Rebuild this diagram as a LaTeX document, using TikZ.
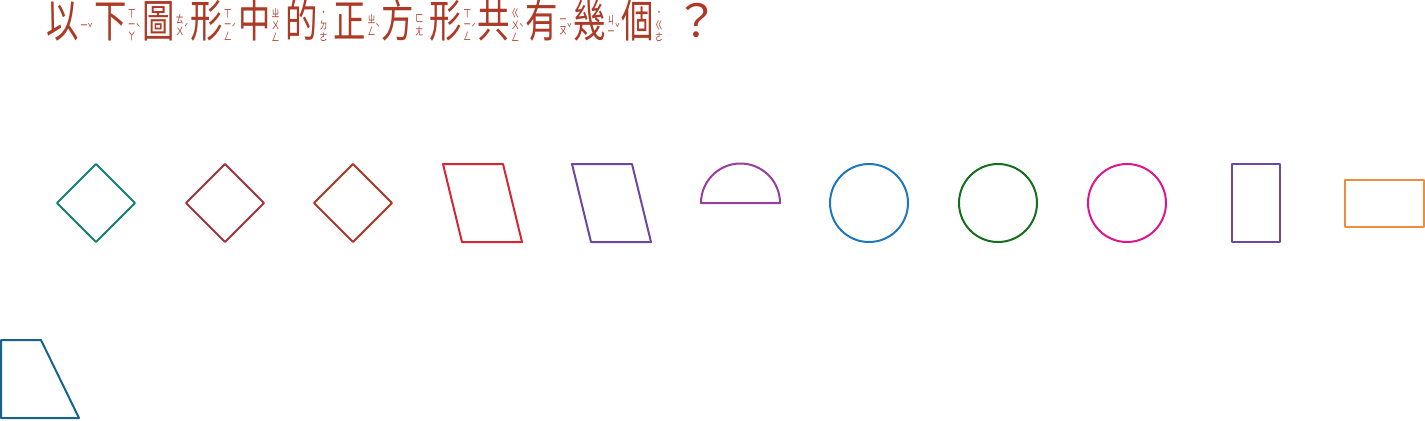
\documentclass[tikz,border=0pt]{standalone}
\usepackage{fontspec}
\usepackage{tikz}
\newfontfamily\cjk[FakeStretch=0.72]{Noto Sans CJK TC}
\newfontfamily\cjkwide{Noto Sans CJK TC}
\definecolor{titlered}{RGB}{172, 58, 38}
\definecolor{tealline}{RGB}{22, 128, 112}
\definecolor{wineline}{RGB}{160, 52, 62}
\definecolor{rustline}{RGB}{168, 56, 40}
\definecolor{redline}{RGB}{214, 38, 52}
\definecolor{violetline}{RGB}{108, 72, 160}
\definecolor{plumline}{RGB}{150, 62, 160}
\definecolor{blueline}{RGB}{30, 120, 190}
\definecolor{greenline}{RGB}{20, 110, 30}
\definecolor{pinkline}{RGB}{220, 22, 140}
\definecolor{orangeline}{RGB}{240, 140, 62}
\definecolor{petrolline}{RGB}{20, 100, 140}
% character with its zhuyin beside it
\newcommand{\zy}[3]{#1\hspace{0.6pt}$\vcenter{\hbox{\fontsize{5.5}{5.6}\selectfont\begin{tabular}{@{}c@{}}#2\end{tabular}}}$\makebox[1.6pt][l]{\raisebox{2.5pt}{\fontsize{5.5}{5.5}\selectfont #3}}\hspace{1.6pt}}
\tikzset{
    outline/.style={line width=1pt, line join=round},
}

\begin{document}
\begin{tikzpicture}[x=0.5pt, y=-0.5pt]
    \useasboundingbox (0,0) rectangle (1425,420);
    \node[anchor=west, inner sep=0pt, text=titlered,
          font=\cjk\fontsize{22.5}{22.5}\selectfont] (question) at (46,22) {%
        \zy{以}{ㄧ}{ˇ}\zy{下}{ㄒ\\ㄧ\\ㄚ}{ˋ}\zy{圖}{ㄊ\\ㄨ}{ˊ}\zy{形}{ㄒ\\ㄧ\\ㄥ}{ˊ}%
        \zy{中}{ㄓ\\ㄨ\\ㄥ}{}\zy{的}{˙\\ㄉ\\ㄜ}{}\zy{正}{ㄓ\\ㄥ}{ˋ}\zy{方}{ㄈ\\ㄤ}{}%
        \zy{形}{ㄒ\\ㄧ\\ㄥ}{ˊ}\zy{共}{ㄍ\\ㄨ\\ㄥ}{ˋ}\zy{有}{ㄧ\\ㄡ}{ˇ}\zy{幾}{ㄐ\\ㄧ}{ˇ}%
        \zy{個}{˙\\ㄍ\\ㄜ}{}\hspace{2.6pt}{\cjkwide ？}};
    % rhombi
    \foreach \cx/\col in {96/tealline, 225/wineline, 353/rustline}
        \draw[outline, draw=\col] (\cx-39,203) -- (\cx,164) -- (\cx+39,203) -- (\cx,242) -- cycle;
    % slanted quadrilaterals
    \foreach \lx/\col in {443/redline, 572/violetline}
        \draw[outline, draw=\col] (\lx,164) -- (\lx+60,164) -- (\lx+79,242) -- (\lx+19,242) -- cycle;
    \draw[outline, draw=plumline] (701,203) arc[start angle=180, end angle=360, radius=39.5] -- cycle;
    % circles
    \foreach \cx/\col in {869/blueline, 998/greenline, 1127/pinkline}
        \draw[outline, draw=\col] (\cx,203) circle[radius=39];
    \draw[outline, draw=violetline] (1232,164) rectangle (1280,242);
    \draw[outline, draw=orangeline] (1345,180) rectangle (1424,227);
    \draw[outline, draw=petrolline] (1,340) -- (41,340) -- (79,418) -- (1,418) -- cycle;
\end{tikzpicture}
\end{document}
